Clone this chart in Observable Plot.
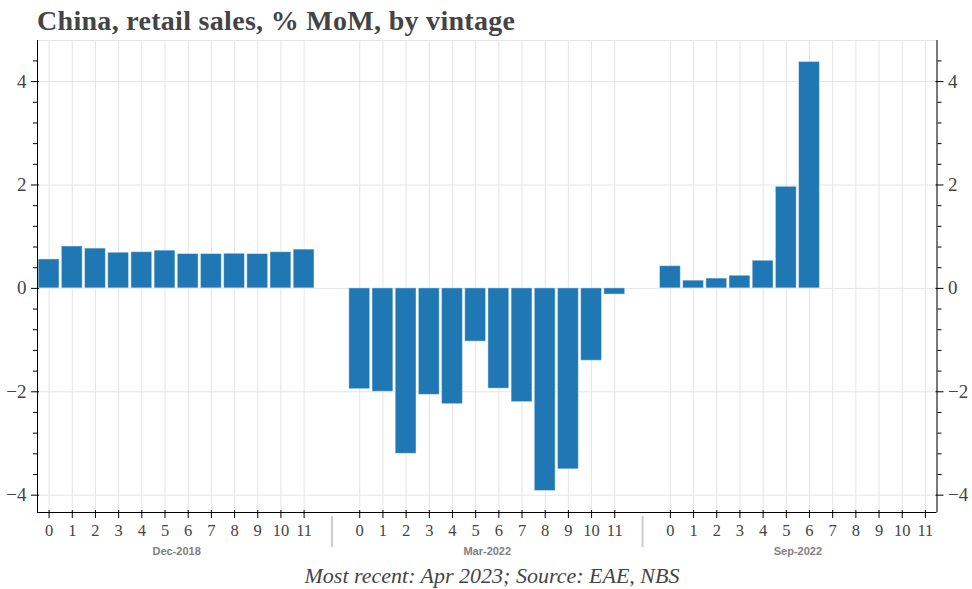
<!DOCTYPE html>
<html><head><meta charset="utf-8">
<script src="https://cdn.jsdelivr.net/npm/d3@7"></script>
<script src="https://cdn.jsdelivr.net/npm/@observablehq/plot@0.6"></script>
<style>
body{margin:0;background:#fff;width:972px;height:589px;position:relative;overflow:hidden}
#title{position:absolute;left:37px;top:7px;font-family:"Liberation Serif",serif;font-weight:bold;font-size:28px;line-height:28px;color:#444;letter-spacing:0.3px;white-space:nowrap}
#chart{position:absolute;left:0;top:36px}
#caption{position:absolute;left:6px;width:972px;top:565px;text-align:center;font-family:"Liberation Serif",serif;font-style:italic;font-size:22px;line-height:22px;color:#444;white-space:nowrap}
</style></head><body>
<div id="title">China, retail sales, % MoM, by vintage</div>
<div id="chart"></div>
<div id="caption">Most recent: Apr 2023; Source: EAE, NBS</div>
<script>
// Data
const vintages = ["Dec-2018", "Mar-2022", "Sep-2022"];
const months = ["0","1","2","3","4","5","6","7","8","9","10","11"];
const dec2018 = [0.56, 0.81, 0.77, 0.69, 0.70, 0.73, 0.665, 0.665, 0.67, 0.665, 0.70, 0.75];
const mar2022 = [-1.95, -2.0, -3.2, -2.06, -2.24, -1.03, -1.94, -2.2, -3.92, -3.5, -1.4, -0.12];
const sep2022 = [0.43, 0.15, 0.19, 0.245, 0.535, 1.965, 4.38];
const yMajorTicks = [-4, -2, 0, 2, 4];
const yMinorTicks = [-3.6, -3.2, -2.8, -2.4, -1.6, -1.2, -0.8, -0.4, 0.4, 0.8, 1.2, 1.6, 2.4, 2.8, 3.2, 3.6, 4.4];

// Layout of nested categorical axis (group padding between vintages)
const series = [dec2018, mar2022, sep2022];
const groupPadding = 1.4;
const groupStep = months.length + groupPadding;
const posOf = (g, i) => g * groupStep + i;

const rows = vintages.flatMap((v, g) => series[g].map((value, i) => ({vintage: v, month: months[i], pos: posOf(g, i), value})));
const tickRows = vintages.flatMap((v, g) => months.map((m, i) => ({pos: posOf(g, i), label: m})));
const labelMap = new Map(tickRows.map(d => [d.pos, d.label]));
const groupRows = vintages.map((v, g) => ({vintage: v, center: posOf(g, (months.length - 1) / 2)}));
const sepRows = vintages.slice(1).map((v, k) => ({pos: posOf(k + 1, 0) - (1 + groupPadding) / 2}));

const xDomain = [-0.5, posOf(vintages.length - 1, months.length - 1) + 0.5];
const allVals = series.flat();
const [lo, hi] = d3.extent(allVals);
const pad = (hi - lo) * 0.05;
const yDomain = [lo - pad, hi + pad];

const gridColor = "#e5e5e5";
const textColor = "#444";
const fmtY = d => (d < 0 ? "\u2212" : "") + Math.abs(d);
const blank = () => "";

const chart = Plot.plot({
  width: 972,
  height: 524,
  marginTop: 4,
  marginBottom: 48,
  marginLeft: 37,
  marginRight: 35.5,
  style: {fontFamily: "Liberation Serif, serif", background: "white", overflow: "visible"},
  x: {domain: xDomain, axis: null},
  y: {domain: yDomain, axis: null},
  marks: [
    Plot.frame({stroke: gridColor}),
    Plot.ruleX(tickRows, {x: "pos", stroke: gridColor}),
    Plot.ruleY(yMajorTicks, {stroke: gridColor}),
    Plot.rectY(rows, {x1: d => d.pos - 0.45, x2: d => d.pos + 0.45, y: "value", fill: "#1f77b4", stroke: "#ffffff", strokeOpacity: 0.45, strokeWidth: 1}),
    // axis lines
    Plot.ruleX([xDomain[0], xDomain[1]], {stroke: "black"}),
    Plot.ruleY([yDomain[0]], {stroke: "black"}),
    // left y axis
    Plot.axisY(yMajorTicks, {anchor: "left", tickSize: 8, dx: 2, tickFormat: blank, label: null, color: "black"}),
    Plot.axisY(yMinorTicks, {anchor: "left", tickSize: 4, tickFormat: blank, label: null, color: "black"}),
    Plot.axisY(yMajorTicks, {anchor: "left", tickSize: 0, tickPadding: 11, fontSize: 19, label: null, color: textColor, tickFormat: fmtY}),
    // right y axis
    Plot.axisY(yMajorTicks, {anchor: "right", tickSize: 8, dx: -2, tickFormat: blank, label: null, color: "black"}),
    Plot.axisY(yMinorTicks, {anchor: "right", tickSize: 4, tickFormat: blank, label: null, color: "black"}),
    Plot.axisY(yMajorTicks, {anchor: "right", tickSize: 0, tickPadding: 11, fontSize: 19, label: null, color: textColor, tickFormat: fmtY}),
    // x axis
    Plot.axisX(tickRows.map(d => d.pos), {anchor: "bottom", tickSize: 8, dy: -2, tickFormat: blank, label: null, color: "black"}),
    Plot.axisX(tickRows.map(d => d.pos), {anchor: "bottom", tickSize: 0, tickPadding: 12, fontSize: 16.5, label: null, color: textColor, tickFormat: p => labelMap.get(p)}),
    // group separators
    Plot.ruleX(sepRows, {x: "pos", y1: yDomain[0], y2: yDomain[0], insetTop: 4, insetBottom: -35, stroke: "#cccccc", strokeWidth: 2}),
    // group labels
    Plot.text(groupRows, {x: "center", frameAnchor: "bottom", dy: 38.5, text: "vintage", lineAnchor: "middle", fontFamily: "Liberation Sans, sans-serif", fontWeight: "bold", fontSize: 11, fill: "#808080"})
  ]
});
document.getElementById("chart").appendChild(chart);
</script>
</body></html>
